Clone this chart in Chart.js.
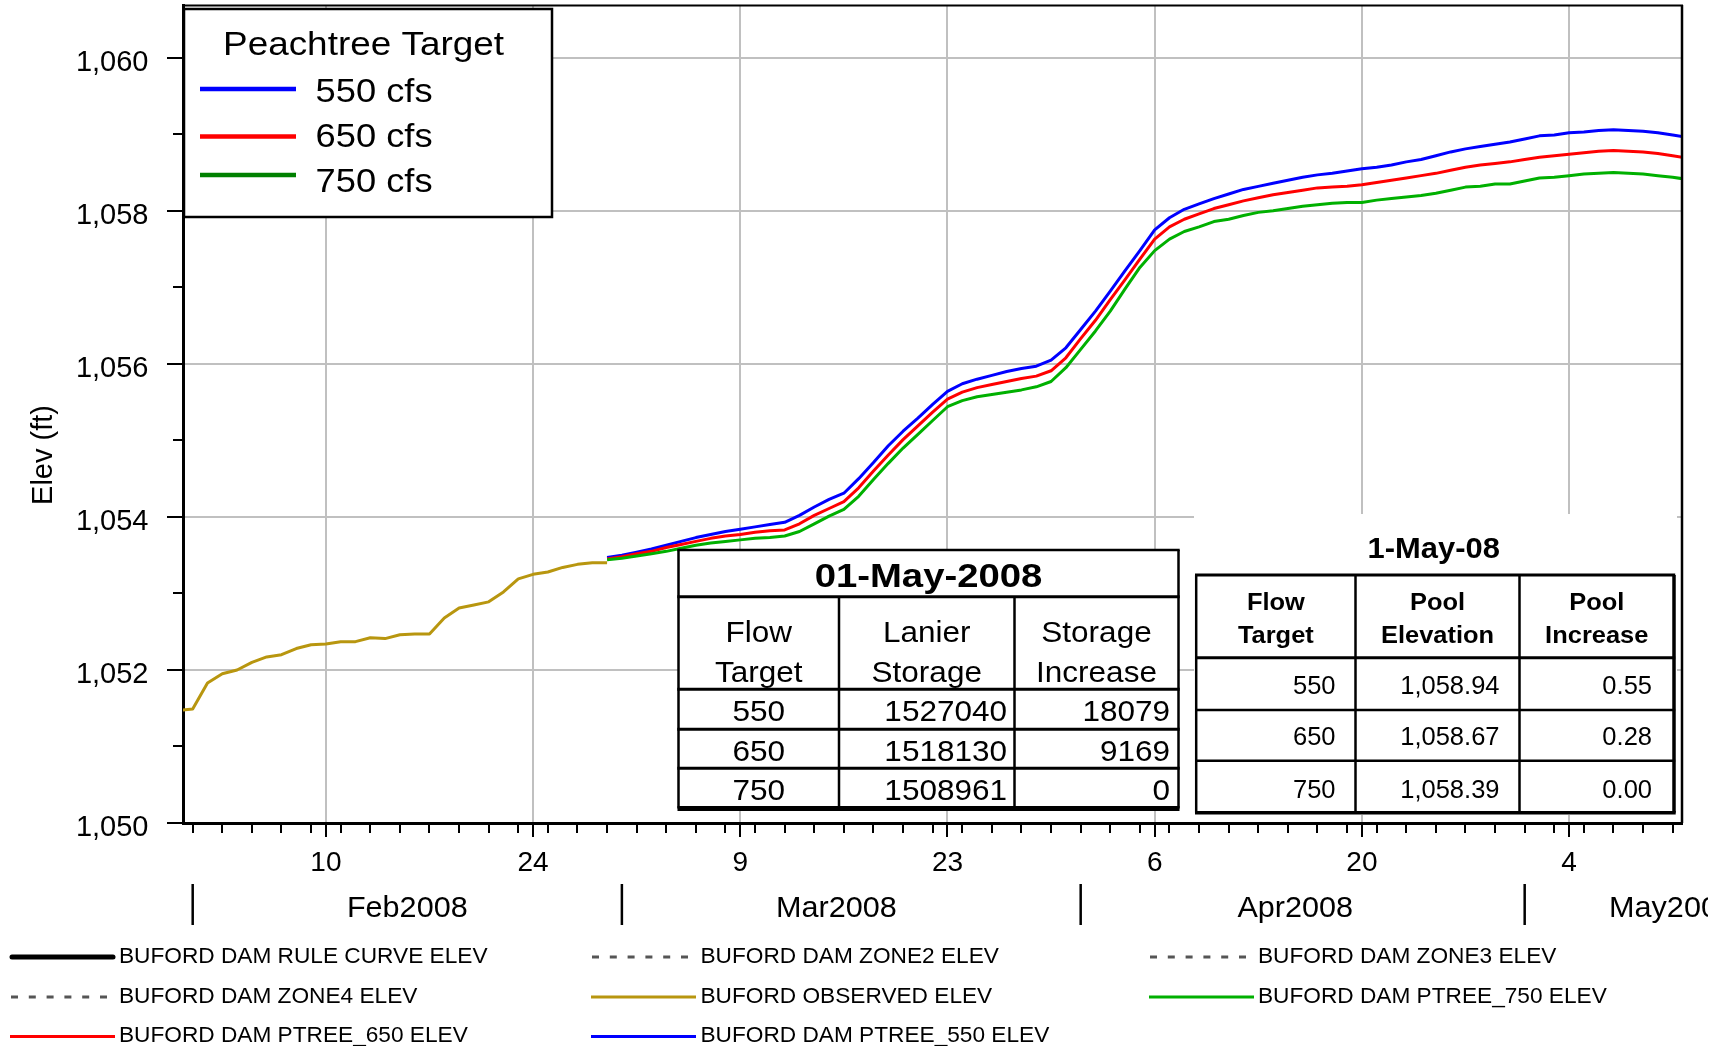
<!DOCTYPE html>
<html><head><meta charset="utf-8">
<script src="https://cdn.jsdelivr.net/npm/chart.js@4.4.1/dist/chart.umd.min.js"></script>
<style>html,body{margin:0;padding:0;background:#fff;}canvas{display:block;}</style>
</head><body>
<canvas id="c" width="1727" height="1046"></canvas>
<script>
// ---------------- DATA ----------------
// x values are days counted from 01 Feb 2008 (0 = Feb 1)
const observedStartDay = -1;
const observedElev = [1051.47,1051.49,1051.83,1051.95,1052.00,1052.10,1052.17,1052.20,1052.28,1052.33,
  1052.34,1052.37,1052.37,1052.42,1052.41,1052.46,1052.47,1052.47,1052.68,1052.81,
  1052.85,1052.89,1053.02,1053.19,1053.25,1053.28,1053.34,1053.38,1053.40,1053.40];
const ptreeStartDay = 28;
const ptree550 = [1053.47,1053.50,1053.54,1053.58,1053.63,1053.68,1053.73,1053.77,1053.81,1053.84,
  1053.87,1053.90,1053.93,1054.02,1054.13,1054.23,1054.31,1054.50,1054.71,1054.93,
  1055.12,1055.29,1055.47,1055.64,1055.74,1055.80,1055.85,1055.90,1055.94,1055.97,
  1056.05,1056.21,1056.45,1056.69,1056.95,1057.22,1057.48,1057.75,1057.91,1058.02,
  1058.09,1058.16,1058.22,1058.28,1058.32,1058.36,1058.40,1058.44,1058.47,1058.49,
  1058.52,1058.55,1058.57,1058.60,1058.64,1058.67,1058.72,1058.77,1058.81,1058.84,
  1058.87,1058.90,1058.94,1058.98,1058.99,1059.02,1059.03,1059.05,1059.06,1059.05,
  1059.04,1059.02,1058.99,1058.96];
const ptree650 = [1053.45,1053.48,1053.52,1053.55,1053.60,1053.64,1053.68,1053.72,1053.75,1053.77,
  1053.80,1053.82,1053.83,1053.91,1054.02,1054.11,1054.20,1054.38,1054.60,1054.81,
  1055.01,1055.19,1055.37,1055.54,1055.63,1055.69,1055.73,1055.77,1055.81,1055.84,
  1055.91,1056.08,1056.33,1056.57,1056.84,1057.10,1057.37,1057.63,1057.79,1057.89,
  1057.96,1058.03,1058.08,1058.13,1058.17,1058.21,1058.24,1058.27,1058.30,1058.31,
  1058.32,1058.34,1058.37,1058.40,1058.43,1058.46,1058.49,1058.53,1058.57,1058.60,
  1058.62,1058.64,1058.67,1058.70,1058.72,1058.74,1058.76,1058.78,1058.79,1058.78,
  1058.77,1058.75,1058.72,1058.69];
const ptree750 = [1053.44,1053.46,1053.49,1053.52,1053.55,1053.59,1053.63,1053.66,1053.68,1053.70,
  1053.72,1053.73,1053.75,1053.81,1053.91,1054.01,1054.10,1054.27,1054.49,1054.70,
  1054.90,1055.08,1055.26,1055.44,1055.52,1055.57,1055.60,1055.63,1055.66,1055.70,
  1055.77,1055.95,1056.19,1056.43,1056.69,1056.98,1057.26,1057.48,1057.63,1057.73,
  1057.79,1057.86,1057.89,1057.94,1057.98,1058.00,1058.03,1058.06,1058.08,1058.10,
  1058.11,1058.11,1058.14,1058.16,1058.18,1058.20,1058.23,1058.27,1058.31,1058.32,
  1058.35,1058.35,1058.39,1058.43,1058.44,1058.46,1058.48,1058.49,1058.50,1058.49,
  1058.48,1058.46,1058.44,1058.41];

const xMajorDays = [9,23,37,51,65,79,93];
const xTickLabels = ['10','24','9','23','6','20','4'];
const monthStartDays = [0,29,60,90];
const monthLabels = ['Feb2008','Mar2008','Apr2008','May2008'];
const yTickValues = [1050,1052,1054,1056,1058,1060];
const yTickLabels = ['1,050','1,052','1,054','1,056','1,058','1,060'];
const seriesNames = ['BUFORD DAM RULE CURVE ELEV','BUFORD DAM ZONE2 ELEV','BUFORD DAM ZONE3 ELEV',
  'BUFORD DAM ZONE4 ELEV','BUFORD OBSERVED ELEV','BUFORD DAM PTREE_750 ELEV',
  'BUFORD DAM PTREE_650 ELEV','BUFORD DAM PTREE_550 ELEV'];
const peachTitle = 'Peachtree Target';
const peachLabels = ['550 cfs','650 cfs','750 cfs'];
const yTitle = 'Elev (ft)';

const t1Title = '01-May-2008';
const t1Header = [['Flow','Target'],['Lanier','Storage'],['Storage','Increase']];
const t1Flow = ['550','650','750'];
const t1Storage = ['1527040','1518130','1508961'];
const t1Increase = ['18079','9169','0'];
const t2Title = '1-May-08';
const t2Header = [['Flow','Target'],['Pool','Elevation'],['Pool','Increase']];
const t2Flow = ['550','650','750'];
const t2Elev = ['1,058.94','1,058.67','1,058.39'];
const t2Increase = ['0.55','0.28','0.00'];

// ---------------- STYLE ----------------
const FAM = '"Liberation Sans", Arial, Helvetica, sans-serif';
const GRID = '#c0c0c0';
const C550 = '#0000ff', C650 = '#ff0000', C750 = '#00b000', COBS = '#b8960f';

const toPts = (start, arr) => arr.map((y, i) => ({x: start + i, y}));

const xTicksAll = (() => {
  const s = new Set(xMajorDays);
  for (let d = 0; d <= 100; d += 2) s.add(d);
  return [...s].sort((a, b) => a - b);
})();
const yTicksAll = [];
for (let v = 1050; v <= 1060; v++) yTicksAll.push(v);

function txt(ctx, s, x, y, size, o = {}) {
  const sx = o.sx || 1;
  ctx.save();
  ctx.font = (o.bold ? 'bold ' : '') + size + 'px ' + FAM;
  ctx.fillStyle = o.color || '#000';
  ctx.textBaseline = 'alphabetic';
  ctx.textAlign = 'left';
  const w = ctx.measureText(s).width * sx;
  const left = o.align === 'center' ? x - w / 2 : (o.align === 'right' ? x - w : x);
  ctx.translate(left, y);
  ctx.scale(sx, 1);
  ctx.fillText(s, 0, 0);
  ctx.restore();
}
function line(ctx, x1, y1, x2, y2, w, color, dash, cap) {
  ctx.save();
  ctx.beginPath();
  ctx.lineWidth = w; ctx.strokeStyle = color || '#000';
  ctx.setLineDash(dash || []);
  ctx.lineCap = cap || 'butt';
  ctx.moveTo(x1, y1); ctx.lineTo(x2, y2); ctx.stroke();
  ctx.restore();
}

const decor = {
  id: 'decor',
  afterDraw(chart) {
    const ctx = chart.ctx;
    const ca = chart.chartArea;
    const xs = chart.scales.x;
    // plot frame top & right
    line(ctx, ca.left, ca.top + 0.5, ca.right + 1, ca.top + 0.5, 2, '#000');
    line(ctx, ca.right, ca.top, ca.right, ca.bottom, 2.5, '#000');

    // Peachtree legend box
    ctx.save();
    ctx.fillStyle = '#fff';
    ctx.fillRect(184, 9, 368, 208);
    ctx.lineWidth = 2.5; ctx.strokeStyle = '#000';
    ctx.strokeRect(184, 9, 368, 208);
    ctx.restore();
    txt(ctx, peachTitle, 363.5, 55, 34, {align: 'center', sx: 1.085});
    const pCols = [C550, C650, '#008000'];
    const pLineY = [89, 136.5, 175];
    const pTextY = [101.7, 146.7, 191.7];
    peachLabels.forEach((lab, i) => {
      line(ctx, 200, pLineY[i], 296, pLineY[i], 4.5, pCols[i]);
      txt(ctx, lab, 315.5, pTextY[i], 33, {sx: 1.1});
    });

    // Table 1
    {
      const X = [678.5, 839, 1014.5, 1178.5], Y = [550, 596.7, 689.3, 729.3, 768.3, 808.5];
      ctx.save(); ctx.fillStyle = '#fff'; ctx.fillRect(X[0], Y[0], X[3] - X[0], Y[5] - Y[0]); ctx.restore();
      for (let i = 0; i < 5; i++) line(ctx, X[0] - 1.2, Y[i], X[3] + 1.2, Y[i], i === 0 ? 2.5 : 3, '#000');
      line(ctx, X[0] - 1, Y[5], X[3] + 1, Y[5], 5, '#000');
      line(ctx, X[0], Y[0], X[0], Y[5], 2.5, '#000');
      line(ctx, X[3], Y[0], X[3], Y[5], 2.5, '#000');
      line(ctx, X[1], Y[1], X[1], Y[5], 2.5, '#000');
      line(ctx, X[2], Y[1], X[2], Y[5], 2.5, '#000');
      txt(ctx, t1Title, (X[0] + X[3]) / 2, 587, 33, {bold: true, align: 'center', sx: 1.16});
      t1Header.forEach((h, c) => {
        const cx = (X[c] + X[c + 1]) / 2;
        txt(ctx, h[0], cx, 641.7, 30, {align: 'center', sx: 1.05});
        txt(ctx, h[1], cx, 681.7, 30, {align: 'center', sx: 1.05});
      });
      const by = [720.7, 760.7, 800.3];
      for (let r = 0; r < 3; r++) {
        txt(ctx, t1Flow[r], (X[0] + X[1]) / 2, by[r], 30, {align: 'center', sx: 1.05});
        txt(ctx, t1Storage[r], X[2] - 7.5, by[r], 30, {align: 'right', sx: 1.05});
        txt(ctx, t1Increase[r], X[3] - 8.5, by[r], 30, {align: 'right', sx: 1.05});
      }
    }
    // Table 2
    {
      const X = [1196.2, 1355.5, 1519.5, 1674], Y = [575, 657.7, 710, 760.7, 812.7];
      ctx.save(); ctx.fillStyle = '#fff'; ctx.fillRect(1194, 514, 1677 - 1194, 815 - 514); ctx.restore();
      txt(ctx, t2Title, 1433.7, 558.3, 30, {bold: true, align: 'center', sx: 1.03});
      line(ctx, X[0] - 1.2, Y[0], X[3] + 1.2, Y[0], 3, '#000');
      line(ctx, X[0] - 1.2, Y[1], X[3] + 1.2, Y[1], 3, '#000');
      line(ctx, X[0] - 1.2, Y[2], X[3] + 1.2, Y[2], 2.5, '#000');
      line(ctx, X[0] - 1.2, Y[3], X[3] + 1.2, Y[3], 2.5, '#000');
      line(ctx, X[0] - 1.2, Y[4], X[3] + 1.7, Y[4], 3.5, '#000');
      line(ctx, X[0], Y[0], X[0], Y[4], 2.5, '#000');
      line(ctx, X[1], Y[0], X[1], Y[4], 2.5, '#000');
      line(ctx, X[2], Y[0], X[2], Y[4], 2.5, '#000');
      line(ctx, X[3], Y[0], X[3], Y[4], 3.5, '#000');
      t2Header.forEach((h, c) => {
        const cx = (X[c] + X[c + 1]) / 2;
        txt(ctx, h[0], cx, 610, 24, {bold: true, align: 'center', sx: 1.06});
        txt(ctx, h[1], cx, 642.7, 24, {bold: true, align: 'center', sx: 1.06});
      });
      const by = [694, 745, 798.3];
      for (let r = 0; r < 3; r++) {
        txt(ctx, t2Flow[r], X[1] - 20, by[r], 25.5, {align: 'right'});
        txt(ctx, t2Elev[r], X[2] - 20, by[r], 25.5, {align: 'right'});
        txt(ctx, t2Increase[r], X[3] - 22, by[r], 25.5, {align: 'right'});
      }
    }

    // month separators and labels (clipped at the picture's right margin)
    ctx.save();
    ctx.beginPath(); ctx.rect(0, 860, 1708, 80); ctx.clip();
    monthStartDays.forEach((d, i) => {
      const px = xs.getPixelForValue(d);
      line(ctx, px, 884, px, 925, 2.5, '#000');
      const cpx = Math.min(xs.getPixelForValue(d + 14.5), 1672);
      txt(ctx, monthLabels[i], cpx, 917, 30, {align: 'center', sx: 1.02});
    });
    ctx.restore();

    // y axis title
    ctx.save();
    ctx.font = '29px ' + FAM;
    ctx.fillStyle = '#000';
    ctx.translate(52, 455);
    ctx.rotate(-Math.PI / 2);
    ctx.textAlign = 'center';
    ctx.textBaseline = 'alphabetic';
    ctx.fillText(yTitle, 0, 0);
    ctx.restore();

    // bottom legend (from datasets)
    const colLine = [10, 591, 1149], colText = [119, 700.5, 1258], rowBase = [962.5, 1002.5, 1042];
    chart.data.datasets.forEach((ds, i) => {
      const c = i % 3, r = Math.floor(i / 3);
      const ly = rowBase[r] - 5.5;
      const x0 = colLine[c];
      if (ds.legendStyle === 'thick') {
        line(ctx, x0 + 2, ly, x0 + 103, ly, 5, ds.borderColor, null, 'round');
      } else if (ds.legendStyle === 'dash') {
        line(ctx, x0 + 1, ly, x0 + 97, ly, 3, ds.borderColor, [7, 10.8]);
      } else {
        line(ctx, x0, ly, x0 + 105, ly, 3, ds.borderColor);
      }
      txt(ctx, ds.label, colText[c], rowBase[r], 22, {sx: 1.03});
    });
  }
};

const datasets = [
  {label: seriesNames[0], data: [], borderColor: '#000', borderWidth: 5, legendStyle: 'thick'},
  {label: seriesNames[1], data: [], borderColor: '#555555', borderWidth: 3, borderDash: [7, 11], legendStyle: 'dash'},
  {label: seriesNames[2], data: [], borderColor: '#555555', borderWidth: 3, borderDash: [7, 11], legendStyle: 'dash'},
  {label: seriesNames[3], data: [], borderColor: '#555555', borderWidth: 3, borderDash: [7, 11], legendStyle: 'dash'},
  {label: seriesNames[4], data: toPts(observedStartDay, observedElev), borderColor: COBS, borderWidth: 3},
  {label: seriesNames[5], data: toPts(ptreeStartDay, ptree750), borderColor: C750, borderWidth: 3},
  {label: seriesNames[6], data: toPts(ptreeStartDay, ptree650), borderColor: C650, borderWidth: 3},
  {label: seriesNames[7], data: toPts(ptreeStartDay, ptree550), borderColor: C550, borderWidth: 3},
].map(d => Object.assign({pointRadius: 0, pointHoverRadius: 0, tension: 0, fill: false,
  borderJoinStyle: 'round', backgroundColor: d.borderColor}, d));

new Chart(document.getElementById('c'), {
  type: 'line',
  data: {datasets},
  plugins: [decor],
  options: {
    responsive: false,
    animation: false,
    devicePixelRatio: 1,
    layout: {padding: {left: 0, right: 45, top: 5, bottom: 0}},
    plugins: {legend: {display: false}, title: {display: false}, tooltip: {enabled: false}},
    events: [],
    scales: {
      x: {
        type: 'linear',
        min: -0.655, max: 100.63,
        afterBuildTicks: (s) => { s.ticks = xTicksAll.map(v => ({value: v})); },
        afterFit: (s) => { s.height = 223; s.paddingLeft = 0; s.paddingRight = 0; },
        ticks: {
          autoSkip: false, maxRotation: 0, minRotation: 0, padding: 9, color: '#000',
          font: {family: FAM, size: 28},
          callback: (v) => { const i = xMajorDays.indexOf(v); return i >= 0 ? xTickLabels[i] : ''; }
        },
        grid: {
          lineWidth: 2, tickLength: 14, tickWidth: 2, tickColor: '#000',
          color: (c) => (c.tick && xMajorDays.includes(c.tick.value)) ? GRID : 'rgba(0,0,0,0)',
          tickBorderDash: (c) => (c.tick && xMajorDays.includes(c.tick.value)) ? [] : [8, 100]
        },
        border: {display: true, color: '#000', width: 3}
      },
      y: {
        type: 'linear',
        min: 1050, max: 1060.69,
        afterBuildTicks: (s) => { s.ticks = yTicksAll.map(v => ({value: v})); },
        afterFit: (s) => { s.width = 183; s.paddingTop = 0; s.paddingBottom = 0; },
        ticks: {
          autoSkip: false, padding: 18.5, color: '#000',
          // two-line label with an empty first line: the label sits ~5px below its tick, as in the source
          font: {family: FAM, size: 29, lineHeight: '10px'},
          callback: (v) => { const i = yTickValues.indexOf(v); return i >= 0 ? ['', yTickLabels[i]] : ''; }
        },
        grid: {
          lineWidth: 2, tickLength: 16, tickWidth: 2, tickColor: '#000',
          color: (c) => (c.tick && c.tick.value % 2 === 0 && c.tick.value > 1050) ? GRID : 'rgba(0,0,0,0)',
          tickBorderDash: (c) => (c.tick && c.tick.value % 2 === 0) ? [] : [0, 6, 10, 100]
        },
        border: {display: true, color: '#000', width: 3}
      }
    }
  }
});
</script>
</body></html>
